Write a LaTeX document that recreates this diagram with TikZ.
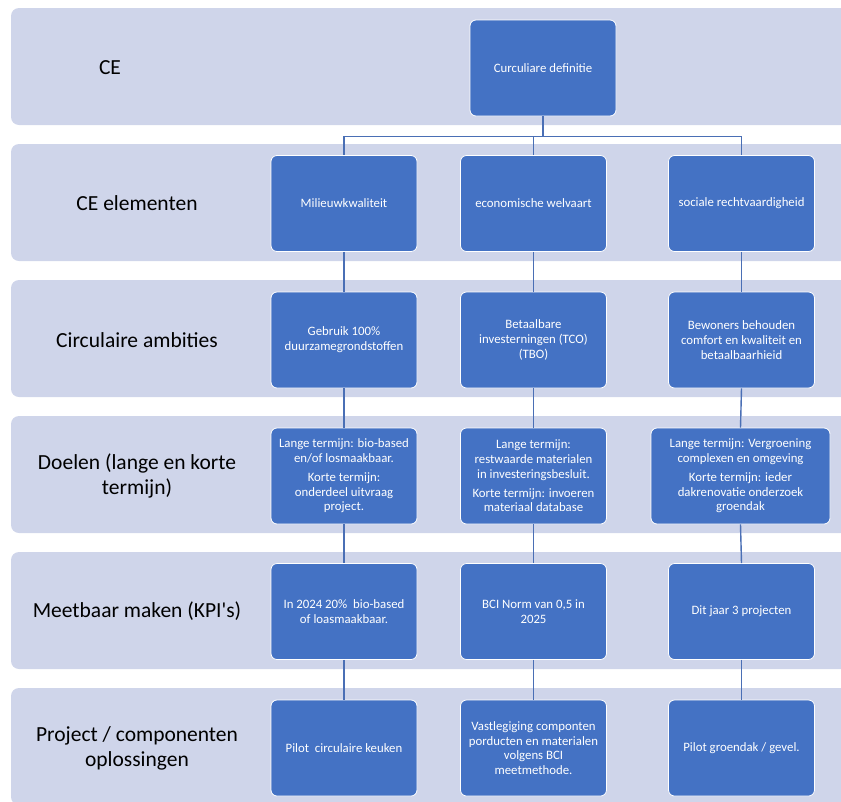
\documentclass[tikz,border=0pt]{standalone}
\usepackage{fontspec}
\setmainfont{Carlito}
\definecolor{bandfill}{HTML}{CFD5EA}
\definecolor{boxblue}{HTML}{4472C4}
\definecolor{linkblue}{HTML}{4A6FB5}
\tikzset{
  band/.style={fill=bandfill, rounded corners=8pt},
  rowlabel/.style={font=\fontsize{21.5}{25}\selectfont, align=center, text=black},
  blockbox/.style={rounded corners=6pt, fill=boxblue, draw=white, line width=0.8pt,
    text=white, font=\fontsize{12.8}{14.8}\selectfont, align=center, inner sep=0pt,
    minimum width=146pt, minimum height=96pt},
  conn/.style={draw=linkblue, line width=1.4pt},
}
\begin{document}
\begin{tikzpicture}[x=1pt,y=-1pt]
\useasboundingbox (0,0) rectangle (841,801);
\clip (0,0) rectangle (841,801);

% horizontal bands
\foreach \t in {8,144,280,416,552,688}
  \fill[band] (11,\t) rectangle (870,\t+117);

% row labels
\node[rowlabel] (lab1) at (110,68) {CE};
\node[rowlabel] (lab2) at (137,203.5) {CE elementen};
\node[rowlabel] (lab3) at (137,340) {Circulaire ambities};
\node[rowlabel] (lab4) at (137,476) {Doelen (lange en korte\\termijn)};
\node[rowlabel] (lab5) at (137,611.5) {Meetbaar maken (KPI\textquotesingle s)};
\node[rowlabel] (lab6) at (137,748) {Project / componenten\\oplossingen};

% top level
\node[blockbox] (top) at (543,68) {Curculiare definitie};

% CE elementen
\node[blockbox] (e1) at (344,203.5) {Milieuwkwaliteit};
\node[blockbox] (e2) at (533.5,203.5) {economische welvaart};
\node[blockbox] (e3) at (741.5,203.5) {sociale rechtvaardigheid};

% ambities
\node[blockbox] (a1) at (344,340) {Gebruik 100\%\\duurzamegrondstoffen};
\node[blockbox] (a2) at (533.5,340) {Betaalbare\\investerningen (TCO)\\(TBO)};
\node[blockbox] (a3) at (741.5,340) {Bewoners behouden\\comfort en kwaliteit en\\betaalbaarhieid};

% doelen
\node[blockbox] (d1) at (344,476) {Lange termijn: bio-based\\en/of losmaakbaar.\\[4pt]Korte termijn:\\onderdeel uitvraag\\project.};
\node[blockbox] (d2) at (533.5,476) {Lange termijn:\\restwaarde materialen\\in investeringsbesluit.\\[4pt]Korte termijn: invoeren\\materiaal database};
\node[blockbox, minimum width=179pt] (d3) at (740.5,476) {Lange termijn: Vergroening\\complexen en omgeving\\[4pt]Korte termijn: ieder\\dakrenovatie onderzoek\\groendak};

% KPI's
\node[blockbox] (k1) at (344,611.5) {In 2024 20\%\ \ bio-based\\of loasmaakbaar.};
\node[blockbox] (k2) at (533.5,611.5) {BCI Norm van 0,5 in\\2025};
\node[blockbox] (k3) at (741.5,611.5) {Dit jaar 3 projecten};

% projecten
\node[blockbox] (p1) at (344,748) {Pilot\ \ circulaire keuken};
\node[blockbox] (p2) at (533.5,748) {Vastlegiging componten\\porducten en materialen\\volgens BCI\\meetmethode.};
\node[blockbox] (p3) at (741.5,748) {Pilot groendak / gevel.};

% connectors
\draw[conn] (top.south) -- ++(0,20) -| (e1.north);
\draw[conn] (top.south) -- ++(0,20) -| (e2.north);
\draw[conn] (top.south) -- ++(0,20) -| (e3.north);
\foreach \u/\v in {e1/a1,a1/d1,d1/k1,k1/p1,e2/a2,a2/d2,d2/k2,k2/p2,e3/a3,a3/d3,d3/k3,k3/p3}
  \draw[conn] (\u.south) -- (\v.north);
\end{tikzpicture}
\end{document}
